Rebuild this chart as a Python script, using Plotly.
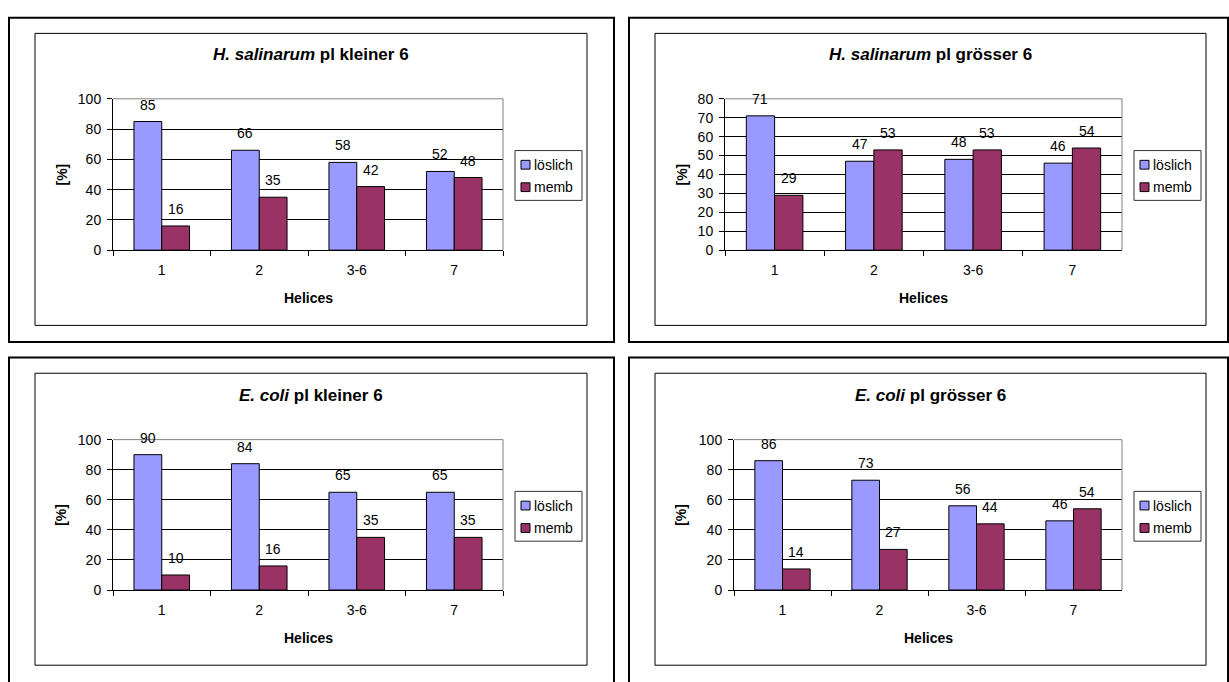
import plotly.graph_objects as go

# ---- data -------------------------------------------------------------
categories = ["1", "2", "3-6", "7"]
series_names = ["löslich", "memb"]

hsal_klein_loeslich = [85, 66, 58, 52]
hsal_klein_memb = [16, 35, 42, 48]

hsal_gross_loeslich = [71, 47, 48, 46]
hsal_gross_memb = [29, 53, 53, 54]

ecoli_klein_loeslich = [90, 84, 65, 65]
ecoli_klein_memb = [10, 16, 35, 35]

ecoli_gross_loeslich = [86, 73, 56, 46]
ecoli_gross_memb = [14, 27, 44, 54]

titles = [
    "<b><i>H. salinarum</i> pl kleiner 6</b>",
    "<b><i>H. salinarum</i> pl grösser 6</b>",
    "<b><i>E. coli</i> pl kleiner 6</b>",
    "<b><i>E. coli</i> pl grösser 6</b>",
]
y_max = [100, 80, 100, 100]
y_step = [20, 10, 20, 20]

# ---- styling / geometry (pixels) --------------------------------------
W, H = 1229, 682
FONT = "Liberation Sans, Arial, sans-serif"
FS = 14
COL_LOES = "#9999FF"
COL_MEMB = "#993366"
PLOT_BG = "#C0C0C0"
BARGAP = 0.43

# per chart: outer frame, inner chart area, plot area
frames = [
    dict(outer=(9, 10, 614, 342), inner=(35, 26, 587, 325), plot=(113, 93, 503, 248)),
    dict(outer=(629, 10, 1228, 342), inner=(655, 26, 1206, 325), plot=(725, 93, 1122, 248)),
    dict(outer=(9, 358, 614, 700), inner=(35, 374, 587, 673), plot=(113, 442, 503, 596)),
    dict(outer=(629, 358, 1228, 700), inner=(655, 374, 1206, 673), plot=(734, 442, 1122, 596)),
]

data_sets = [
    (hsal_klein_loeslich, hsal_klein_memb),
    (hsal_gross_loeslich, hsal_gross_memb),
    (ecoli_klein_loeslich, ecoli_klein_memb),
    (ecoli_gross_loeslich, ecoli_gross_memb),
]


def fx(p):
    return p / W


def fy(p):
    return 1 - p / H


fig = go.Figure()
shapes = []
annotations = []
layout_axes = {}

for i, (fr, (loes, memb)) in enumerate(zip(frames, data_sets), start=1):
    xa = "x" if i == 1 else f"x{i}"
    ya = "y" if i == 1 else f"y{i}"
    x0, y0, x1, y1 = fr["plot"]

    for name, vals, col in ((series_names[0], loes, COL_LOES), (series_names[1], memb, COL_MEMB)):
        fig.add_trace(go.Bar(
            x=categories, y=vals, name=name, xaxis=xa, yaxis=ya,
            marker=dict(color=col, line=dict(color="black", width=1)),
            showlegend=False, hoverinfo="x+y+name",
        ))

    # value labels above each bar (x given as category index on the axis)
    bar_off = (1 - BARGAP) * (x1 - x0) / len(categories) / 4
    for vals, dx in ((loes, -bar_off), (memb, bar_off)):
        for j, v in enumerate(vals):
            annotations.append(dict(
                x=j, y=v, xref=xa, yref=ya, text=str(v), showarrow=False,
                xshift=dx, yshift=17, yanchor="middle", xanchor="center",
                font=dict(family=FONT, size=FS, color="black"),
            ))

    layout_axes["xaxis" if i == 1 else f"xaxis{i}"] = dict(
        domain=[fx(x0), fx(x1)], anchor=ya, type="category",
        categoryorder="array", categoryarray=categories,
        range=[-0.5, len(categories) - 0.5],
        tickson="boundaries", ticks="outside", ticklen=5, tickcolor="black",
        showline=True, linecolor="black", linewidth=1, showgrid=False,
        tickfont=dict(family=FONT, size=FS, color="black"),
        ticklabelstandoff=7, fixedrange=True,
    )
    layout_axes["yaxis" if i == 1 else f"yaxis{i}"] = dict(
        domain=[fy(y1), fy(y0)], anchor=xa, range=[0, y_max[i - 1]],
        dtick=y_step[i - 1], tick0=0, ticks="outside", ticklen=5, tickcolor="black",
        showline=True, linecolor="black", linewidth=1,
        showgrid=True, gridcolor="black", gridwidth=1, zeroline=False,
        tickfont=dict(family=FONT, size=FS, color="black"),
        ticklabelstandoff=3, fixedrange=True,
    )

    # grey plot-area border on top and right
    shapes.append(dict(type="line", xref=f"{xa} domain", yref=f"{ya} domain",
                       x0=0, y0=1, x1=1, y1=1, line=dict(color="#808080", width=1)))
    shapes.append(dict(type="line", xref=f"{xa} domain", yref=f"{ya} domain",
                       x0=1, y0=0, x1=1, y1=1, line=dict(color="#808080", width=1)))

    # frames
    ox0, oy0, ox1, oy1 = fr["outer"]
    shapes.append(dict(type="rect", xref="paper", yref="paper", layer="below",
                       x0=fx(ox0), y0=fy(oy0), x1=fx(ox1), y1=fy(oy1),
                       line=dict(color="black", width=2), fillcolor="rgba(0,0,0,0)"))
    ix0, iy0, ix1, iy1 = fr["inner"]
    shapes.append(dict(type="rect", xref="paper", yref="paper", layer="below",
                       x0=fx(ix0), y0=fy(iy0), x1=fx(ix1), y1=fy(iy1),
                       line=dict(color="black", width=1), fillcolor="white"))

    # chart title
    annotations.append(dict(
        x=fx((ix0 + ix1) / 2), y=fy(y0 - 45), xref="paper", yref="paper",
        text=titles[i - 1], showarrow=False, xanchor="center", yanchor="middle",
        font=dict(family=FONT, size=17, color="black"),
    ))
    # axis titles
    annotations.append(dict(
        x=fx((x0 + x1) / 2), y=fy(y1 + 49), xref="paper", yref="paper",
        text="<b>Helices</b>", showarrow=False, xanchor="center", yanchor="middle",
        font=dict(family=FONT, size=FS, color="black"),
    ))
    annotations.append(dict(
        x=fx(ix0 + 26), y=fy((y0 + y1) / 2), xref="paper", yref="paper",
        text="<b>[%]</b>", showarrow=False, textangle=-90,
        xanchor="center", yanchor="middle",
        font=dict(family=FONT, size=FS, color="black"),
    ))

    # legend box
    lx0, ly0 = x1 + 12, y0 + 53
    lx1, ly1 = lx0 + 67, ly0 + 51
    shapes.append(dict(type="rect", xref="paper", yref="paper",
                       x0=fx(lx0), y0=fy(ly0), x1=fx(lx1), y1=fy(ly1),
                       line=dict(color="#333333", width=1), fillcolor="white"))
    for k, (name, col) in enumerate(zip(series_names, (COL_LOES, COL_MEMB))):
        sy = ly0 + 10 + 23 * k
        shapes.append(dict(type="rect", xref="paper", yref="paper",
                           x0=fx(lx0 + 6), y0=fy(sy), x1=fx(lx0 + 15), y1=fy(sy + 9),
                           line=dict(color="black", width=1), fillcolor=col))
        annotations.append(dict(
            x=fx(lx0 + 17), y=fy(sy + 4.5), xref="paper", yref="paper",
            text=name, showarrow=False, xanchor="left", yanchor="middle",
            font=dict(family=FONT, size=FS, color="black"),
        ))

fig.update_layout(
    width=W, height=H, autosize=False,
    margin=dict(l=0, r=0, t=0, b=0),
    paper_bgcolor="white", plot_bgcolor=PLOT_BG,
    barmode="group", bargap=BARGAP, bargroupgap=0,
    shapes=shapes, annotations=annotations,
    showlegend=False,
    font=dict(family=FONT, size=FS, color="black"),
    **layout_axes,
)

fig.write_html("out.html", config=dict(displayModeBar=False))
